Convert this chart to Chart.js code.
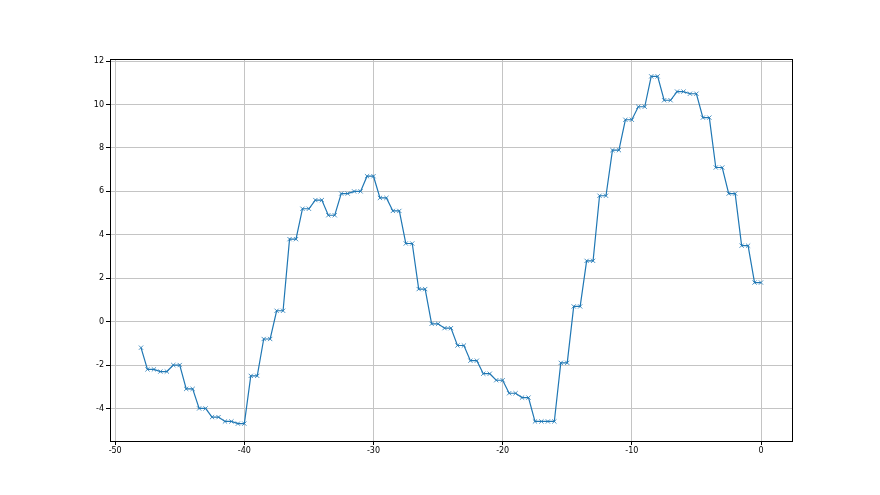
<!DOCTYPE html>
<html>
<head>
<meta charset="utf-8">
<script src="https://cdn.jsdelivr.net/npm/chart.js@4/dist/chart.umd.min.js"></script>
<style>
  html, body { margin: 0; padding: 0; background: #fff; }
  #wrap { width: 880px; height: 495px; }
</style>
</head>
<body>
<div id="wrap"><canvas id="chart" width="880" height="495"></canvas></div>
<script>
// x positions go from -48 to 0 in half steps
const xValues = [
  -48, -47.5, -47, -46.5, -46, -45.5, -45, -44.5, -44, -43.5, -43, -42.5, -42,
  -41.5, -41, -40.5, -40, -39.5, -39, -38.5, -38, -37.5, -37, -36.5, -36,
  -35.5, -35, -34.5, -34, -33.5, -33, -32.5, -32, -31.5, -31, -30.5, -30,
  -29.5, -29, -28.5, -28, -27.5, -27, -26.5, -26, -25.5, -25, -24.5, -24,
  -23.5, -23, -22.5, -22, -21.5, -21, -20.5, -20, -19.5, -19, -18.5, -18,
  -17.5, -17, -16.5, -16, -15.5, -15, -14.5, -14, -13.5, -13, -12.5, -12,
  -11.5, -11, -10.5, -10, -9.5, -9, -8.5, -8, -7.5, -7, -6.5, -6,
  -5.5, -5, -4.5, -4, -3.5, -3, -2.5, -2, -1.5, -1, -0.5, 0
];

const yValues = [
  -1.2, -2.2, -2.2, -2.3, -2.3, -2.0, -2.0, -3.1, -3.1, -4.0, -4.0, -4.4, -4.4,
  -4.6, -4.6, -4.7, -4.7, -2.5, -2.5, -0.8, -0.8, 0.5, 0.5, 3.8, 3.8,
  5.2, 5.2, 5.6, 5.6, 4.9, 4.9, 5.9, 5.9, 6.0, 6.0, 6.7, 6.7,
  5.7, 5.7, 5.1, 5.1, 3.6, 3.6, 1.5, 1.5, -0.1, -0.1, -0.3, -0.3,
  -1.1, -1.1, -1.8, -1.8, -2.4, -2.4, -2.7, -2.7, -3.3, -3.3, -3.5, -3.5,
  -4.6, -4.6, -4.6, -4.6, -1.9, -1.9, 0.7, 0.7, 2.8, 2.8, 5.8, 5.8,
  7.9, 7.9, 9.3, 9.3, 9.9, 9.9, 11.3, 11.3, 10.2, 10.2, 10.6, 10.6,
  10.5, 10.5, 9.4, 9.4, 7.1, 7.1, 5.9, 5.9, 3.5, 3.5, 1.8, 1.8
];

const xTicks = [-50, -40, -30, -20, -10, 0];
const yTicks = [-4, -2, 0, 2, 4, 6, 8, 10, 12];

const points = xValues.map((x, i) => ({ x: x, y: yValues[i] }));

const blue = "#1f77b4";
const tickFont = { family: "DejaVu Sans", size: 8 };

// black frame round the plot area, like matplotlib's spines
const frame = {
  id: "frame",
  afterDraw(chart) {
    const a = chart.chartArea;
    const c = chart.ctx;
    c.save();
    c.strokeStyle = "#000";
    c.lineWidth = 1;
    c.strokeRect(Math.round(a.left) + 0.5, Math.round(a.top) + 0.5,
      Math.round(a.right - a.left), Math.round(a.bottom - a.top));
    c.restore();
  },
};

const ctx = document.getElementById("chart");

new Chart(ctx, {
  type: "line",
  data: {
    datasets: [
      {
        data: points,
        borderColor: blue,
        borderWidth: 1.2,
        pointStyle: "crossRot",
        pointRadius: 3,
        pointBorderColor: blue,
        pointBorderWidth: 0.8,
        pointHoverRadius: 3,
        tension: 0,
      },
    ],
  },
  plugins: [frame],
  options: {
    responsive: false,
    animation: false,
    events: [],
    layout: { padding: { left: 0, right: 88, top: 59, bottom: 34 } },
    plugins: { legend: { display: false }, tooltip: { enabled: false } },
    scales: {
      x: {
        type: "linear",
        min: -50.4,
        max: 2.4,
        afterBuildTicks: (scale) => {
          scale.ticks = xTicks.map((v) => ({ value: v }));
        },
        afterFit: (scale) => { scale.height = 20; },
        ticks: { font: tickFont, color: "#000", padding: 1, maxRotation: 0 },
        grid: { color: "#c4c4c4", lineWidth: 1, tickColor: "#000", tickLength: 4 },
        border: { display: false },
      },
      y: {
        min: -5.5,
        max: 12.1,
        afterBuildTicks: (scale) => {
          scale.ticks = yTicks.map((v) => ({ value: v }));
        },
        afterFit: (scale) => { scale.width = 110; },
        ticks: { font: tickFont, color: "#000", padding: 2 },
        grid: { color: "#c4c4c4", lineWidth: 1, tickColor: "#000", tickLength: 4 },
        border: { display: false },
      },
    },
  },
});
</script>
</body>
</html>
